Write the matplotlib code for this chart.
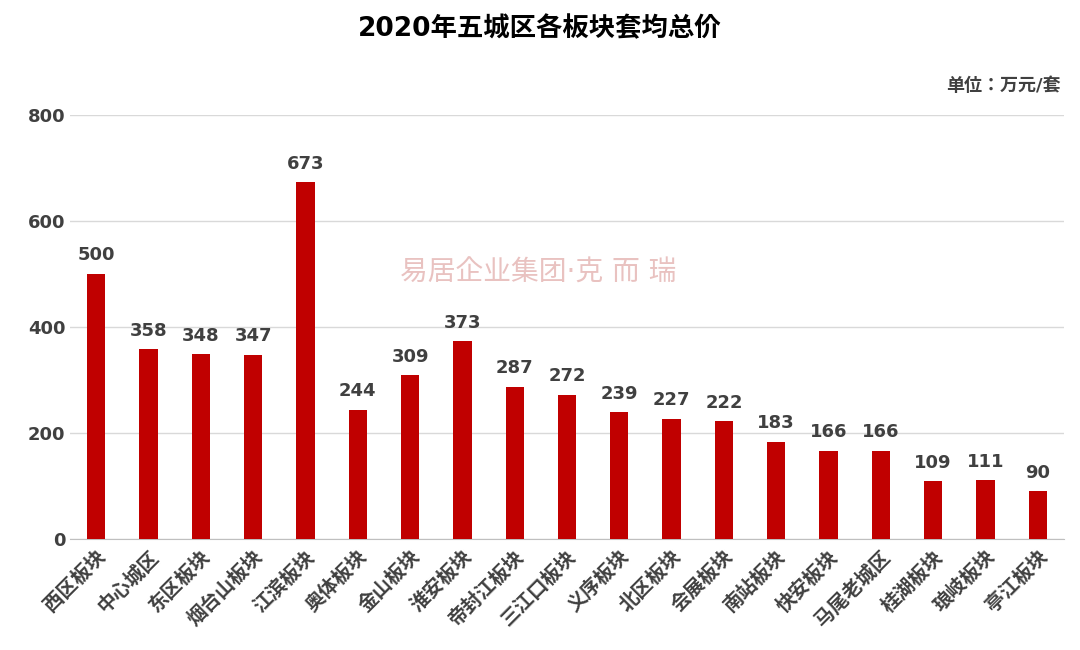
import matplotlib.pyplot as plt
from matplotlib import font_manager

# pick whichever CJK family is actually registered
names = {f.name for f in font_manager.fontManager.ttflist}
cjk = [n for n in ['Noto Sans CJK SC', 'Noto Sans CJK JP', 'Noto Sans CJK TC',
                   'Noto Sans CJK KR', 'Noto Sans SC'] if n in names]
if not cjk:
    cjk = sorted(n for n in names if 'CJK' in n)
plt.rcParams['font.family'] = ['DejaVu Sans'] + cjk

# data
categories = ['西区板块', '中心城区', '东区板块', '烟台山板块', '江滨板块', '奥体板块',
              '金山板块', '淮安板块', '帝封江板块', '三江口板块', '义序板块', '北区板块',
              '会展板块', '南站板块', '快安板块', '马尾老城区', '桂湖板块', '琅岐板块', '亭江板块']
values = [500, 358, 348, 347, 673, 244, 309, 373, 287, 272, 239, 227, 222, 183, 166, 166, 109, 111, 90]

fig = plt.figure(figsize=(10.8, 6.5), dpi=100)
ax = fig.add_axes([0.065, 0.171, 0.92, 0.652])

x = range(len(categories))
ax.bar(x, values, width=0.35, color='#C00000', zorder=3)
for i, v in zip(x, values):
    ax.text(i, v + 18, str(v), ha='center', va='bottom', fontsize=13,
            fontweight='bold', color='#404040')

ax.set_xlim(-0.5, len(categories) - 0.5)
ax.set_ylim(0, 800)
ax.set_yticks(range(0, 801, 200))
ax.yaxis.grid(True, color='#d9d9d9', linewidth=1, zorder=0)
ax.set_xticks(list(x))
ax.set_xticklabels(categories, rotation=45, ha='right', rotation_mode='anchor',
                   fontsize=14, fontweight='bold', color='#404040')
ax.tick_params(axis='y', labelsize=13, colors='#404040', length=0)
ax.tick_params(axis='x', length=0, pad=6)
for lbl in ax.get_yticklabels():
    lbl.set_fontweight('bold')
for s in ['top', 'right', 'left']:
    ax.spines[s].set_visible(False)
ax.spines['bottom'].set_color('#bfbfbf')

fig.text(0.5, 0.955, '2020年五城区各板块套均总价', ha='center', va='center',
         fontsize=19, fontweight='bold', color='black')
fig.text(0.982, 0.868, '单位：万元/套', ha='right', va='center',
         fontsize=13, fontweight='bold', color='#404040')
fig.text(0.37, 0.58, '易居企业集团·克 而 瑞', ha='left', va='center',
         fontsize=20, color='#c0504d', alpha=0.35, zorder=5)

fig.savefig('out.png', dpi=100)
